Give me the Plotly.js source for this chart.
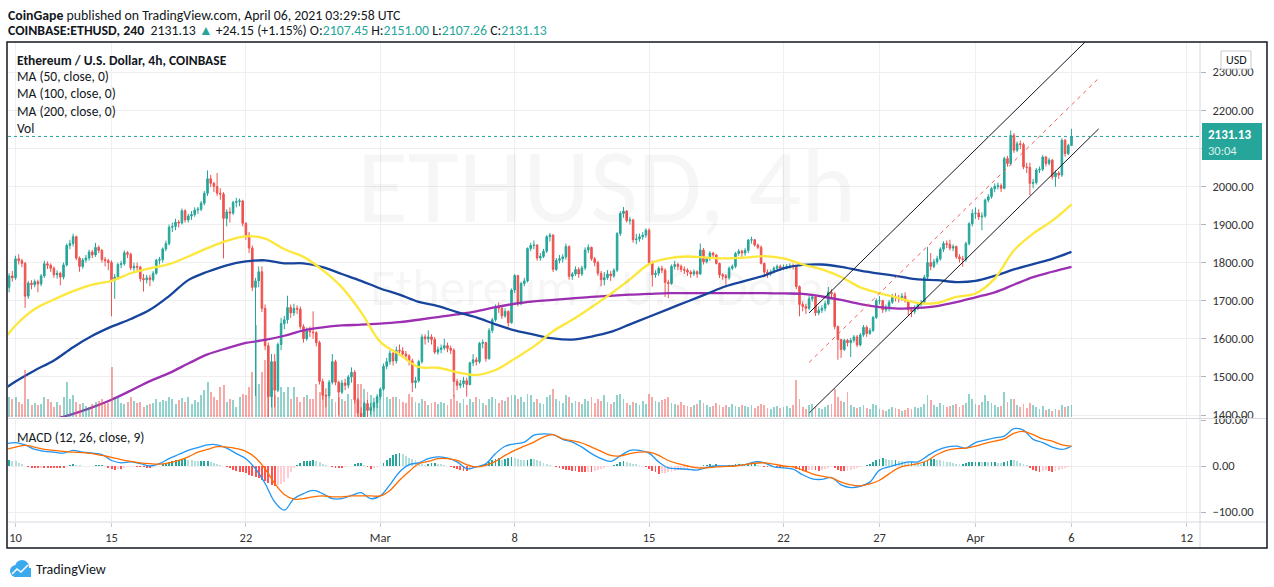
<!DOCTYPE html>
<html>
<head>
<meta charset="utf-8">
<script src="https://cdn.plot.ly/plotly-3.0.1.min.js"></script>
<style>
html,body{margin:0;padding:0;background:#fff;}
#chart{width:1274px;height:587px;}
</style>
</head>
<body>
<div id="chart"></div>
<script>
// ETH/USD 4h candles, Coinbase, 9 Feb – 6 Apr 2021
const FIRST_CANDLE = Date.UTC(2021, 1, 9, 16);
const FOUR_H = 4 * 3600 * 1000;
const HALF_DAY = 12 * 3600 * 1000;
const DAY = 24 * 3600 * 1000;

const firstOpen = 1735;
const closes = [
  1765, 1760,
  1810, 1805, 1798, 1712, 1746, 1742,   // Feb 10
  1750, 1744, 1765, 1797, 1793, 1785,
  1768, 1772, 1762, 1794, 1845, 1850,
  1868, 1812, 1790, 1807, 1812, 1828,
  1820, 1840, 1832, 1808, 1805, 1800,
  1755, 1762, 1795, 1797, 1826, 1822,   // Feb 15
  1786, 1790, 1788, 1758, 1755, 1760,
  1755, 1772, 1806, 1808, 1836, 1850,
  1893, 1895, 1906, 1904, 1936, 1912,
  1922, 1926, 1938, 1940, 1956, 1982,
  2020, 2008, 2000, 1982, 1980, 1916,   // Feb 20
  1933, 1930, 1958, 1960, 1962, 1903,
  1872, 1838, 1735, 1752, 1776, 1680,
  1582, 1448, 1540, 1465, 1585, 1640,
  1650, 1682, 1668, 1680, 1678, 1632,
  1600, 1622, 1618, 1616, 1590, 1488,   // Feb 25
  1452, 1450, 1486, 1540, 1486, 1460,
  1484, 1478, 1500, 1512, 1440, 1405,
  1395, 1430, 1412, 1420, 1432, 1448,
  1468, 1528, 1540, 1562, 1542, 1570,   // Mar 1
  1568, 1560, 1555, 1542, 1485, 1490,
  1540, 1605, 1600, 1605, 1598, 1565,
  1572, 1576, 1582, 1575, 1570, 1488,
  1478, 1482, 1490, 1480, 1537, 1545,   // Mar 5
  1540, 1588, 1590, 1548, 1622, 1650,
  1685, 1680, 1660, 1672, 1642, 1728,
  1766, 1692, 1745, 1752, 1837, 1845,
  1846, 1812, 1816, 1830, 1868, 1872,
  1782, 1806, 1810, 1815, 1842, 1764,   // Mar 10
  1770, 1782, 1770, 1786, 1833, 1840,
  1810, 1800, 1772, 1755, 1760, 1770,
  1765, 1780, 1876, 1929, 1935, 1910,
  1912, 1860, 1862, 1868, 1872, 1885,
  1800, 1768, 1772, 1785, 1780, 1748,   // Mar 15
  1745, 1790, 1795, 1790, 1782, 1780,
  1775, 1770, 1776, 1770, 1833, 1802,
  1810, 1825, 1820, 1798, 1768, 1765,
  1760, 1785, 1790, 1824, 1830, 1825,
  1832, 1859, 1860, 1846, 1840, 1798,   // Mar 20
  1775, 1770, 1776, 1785, 1790, 1786,
  1788, 1790, 1791, 1790, 1737, 1690,
  1685, 1680, 1705, 1710, 1668, 1675,
  1680, 1692, 1722, 1718, 1632, 1598,
  1572, 1596, 1590, 1596, 1605, 1584,   // Mar 25
  1610, 1630, 1614, 1622, 1656, 1700,
  1700, 1676, 1680, 1696, 1710, 1708,
  1705, 1712, 1700, 1676, 1672, 1682,
  1690, 1696, 1762, 1800, 1790, 1802,
  1810, 1835, 1850, 1848, 1838, 1842,   // Mar 30
  1815, 1810, 1808, 1850, 1902, 1929,
  1930, 1920, 1922, 1964, 1973, 1994,   // Apr 1
  2000, 2002, 1995, 2073, 2060, 2134,
  2095, 2112, 2110, 2051, 2050, 2008,
  2010, 2043, 2045, 2077, 2060, 2069,
  2025, 2035, 2030, 2121, 2086, 2107.45, // Apr 5
  2131.13
];

const highs = [
  1772, 1778,
  1818, 1822, 1810, 1802, 1752, 1754,
  1756, 1755, 1770, 1805, 1803, 1798,
  1790, 1780, 1776, 1800, 1850, 1860,
  1876, 1871, 1816, 1812, 1820, 1834,
  1833, 1852, 1845, 1836, 1815, 1810,
  1806, 1770, 1800, 1805, 1832, 1830,
  1826, 1800, 1800, 1792, 1770, 1768,
  1768, 1778, 1810, 1815, 1840, 1858,
  1900, 1905, 1915, 1912, 1942, 1940,
  1928, 1935, 1945, 1946, 1962, 1988,
  2042, 2030, 2012, 2035, 1995, 1985,
  1940, 1945, 1962, 1970, 1968, 1965,
  1906, 1880, 1845, 1760, 1790, 1790,
  1690, 1590, 1560, 1560, 1590, 1655,
  1660, 1713, 1690, 1692, 1688, 1685,
  1638, 1630, 1632, 1672, 1620, 1595,
  1495, 1470, 1492, 1560, 1545, 1490,
  1492, 1495, 1505, 1525, 1518, 1445,
  1420, 1435, 1440, 1432, 1445, 1455,
  1472, 1535, 1550, 1570, 1565, 1580,
  1585, 1578, 1568, 1560, 1548, 1500,
  1545, 1612, 1612, 1622, 1612, 1605,
  1580, 1585, 1600, 1590, 1582, 1575,
  1495, 1492, 1500, 1498, 1540, 1560,
  1552, 1592, 1598, 1592, 1628, 1655,
  1690, 1695, 1685, 1680, 1675, 1732,
  1770, 1768, 1750, 1760, 1840, 1852,
  1858, 1848, 1825, 1836, 1872, 1878,
  1875, 1812, 1820, 1822, 1850, 1845,
  1775, 1790, 1788, 1792, 1840, 1848,
  1842, 1815, 1805, 1778, 1775, 1780,
  1778, 1785, 1880, 1935, 1946, 1938,
  1920, 1915, 1875, 1876, 1880, 1890,
  1890, 1805, 1780, 1790, 1792, 1785,
  1755, 1795, 1805, 1800, 1795, 1790,
  1785, 1780, 1782, 1780, 1850, 1838,
  1815, 1830, 1828, 1822, 1800, 1772,
  1770, 1790, 1795, 1828, 1836, 1834,
  1838, 1862, 1868, 1862, 1850, 1845,
  1800, 1782, 1782, 1790, 1795, 1795,
  1795, 1796, 1798, 1798, 1792, 1740,
  1698, 1692, 1712, 1718, 1712, 1685,
  1688, 1700, 1736, 1730, 1722, 1635,
  1600, 1600, 1600, 1602, 1610, 1610,
  1615, 1636, 1635, 1628, 1660, 1706,
  1712, 1702, 1690, 1702, 1718, 1720,
  1715, 1720, 1722, 1702, 1684, 1688,
  1695, 1702, 1768, 1841, 1825, 1810,
  1818, 1840, 1856, 1858, 1860, 1848,
  1845, 1822, 1818, 1855, 1906, 1940,
  1945, 1940, 1932, 1968, 1980, 1998,
  2008, 2010, 2008, 2078, 2080, 2147,
  2140, 2118, 2120, 2115, 2062, 2062,
  2020, 2048, 2052, 2082, 2080, 2075,
  2072, 2042, 2040, 2126, 2125, 2112,
  2151
];

const lows = [
  1722, 1750,
  1755, 1795, 1788, 1681, 1705, 1730,
  1735, 1722, 1738, 1760, 1783, 1775,
  1760, 1758, 1740, 1756, 1790, 1835,
  1842, 1806, 1776, 1784, 1800, 1805,
  1812, 1815, 1825, 1800, 1790, 1780,
  1659, 1705, 1755, 1785, 1792, 1812,
  1780, 1778, 1778, 1750, 1724, 1745,
  1738, 1750, 1768, 1795, 1800, 1830,
  1845, 1880, 1885, 1892, 1900, 1905,
  1905, 1912, 1920, 1928, 1935, 1950,
  1975, 1998, 1985, 1975, 1965, 1811,
  1895, 1905, 1925, 1945, 1948, 1895,
  1860, 1825, 1725, 1450, 1735, 1670,
  1570, 1390, 1420, 1420, 1460, 1570,
  1625, 1640, 1655, 1660, 1665, 1625,
  1590, 1595, 1605, 1600, 1580, 1480,
  1440, 1420, 1445, 1480, 1478, 1400,
  1455, 1465, 1470, 1485, 1430, 1395,
  1290, 1380, 1395, 1400, 1410, 1418,
  1440, 1462, 1520, 1532, 1530, 1535,
  1555, 1550, 1545, 1530, 1460, 1470,
  1485, 1535, 1585, 1590, 1585, 1560,
  1558, 1562, 1570, 1565, 1560, 1448,
  1465, 1470, 1472, 1448, 1478, 1528,
  1530, 1535, 1575, 1540, 1545, 1615,
  1645, 1668, 1652, 1655, 1632, 1640,
  1720, 1685, 1688, 1738, 1748, 1830,
  1835, 1805, 1805, 1812, 1825, 1855,
  1775, 1778, 1798, 1800, 1808, 1755,
  1755, 1765, 1760, 1765, 1780, 1825,
  1805, 1790, 1765, 1738, 1740, 1755,
  1752, 1760, 1775, 1870, 1918, 1905,
  1900, 1852, 1848, 1855, 1860, 1865,
  1795, 1737, 1760, 1765, 1772, 1710,
  1707, 1742, 1782, 1780, 1775, 1770,
  1765, 1760, 1765, 1760, 1768, 1795,
  1798, 1805, 1812, 1795, 1760, 1755,
  1735, 1755, 1780, 1785, 1818, 1815,
  1818, 1825, 1850, 1842, 1835, 1795,
  1765, 1760, 1765, 1772, 1780, 1778,
  1780, 1782, 1784, 1782, 1730, 1659,
  1672, 1665, 1675, 1698, 1660, 1662,
  1668, 1672, 1688, 1708, 1625, 1545,
  1550, 1568, 1580, 1552, 1590, 1578,
  1580, 1605, 1605, 1610, 1618, 1652,
  1690, 1668, 1670, 1672, 1692, 1698,
  1695, 1700, 1695, 1662, 1657, 1665,
  1675, 1685, 1690, 1755, 1780, 1785,
  1795, 1805, 1828, 1838, 1832, 1830,
  1810, 1800, 1789, 1802, 1845, 1895,
  1915, 1912, 1885, 1918, 1958, 1968,
  1985, 1992, 1985, 1992, 2052, 2055,
  2088, 2090, 2098, 2045, 2035, 1977,
  1995, 2005, 2035, 2040, 2052, 2055,
  2018, 1999, 2020, 2025, 2078, 2082,
  2107.26
];

// volume per candle, thousand ETH
const volumes = [
  20, 18,
  20, 15, 13, 47, 18, 12,
  14, 12, 13, 20, 18, 15,
  10, 15, 12, 20, 35, 18,
  22, 15, 13, 14, 11, 10,
  13, 15, 16, 18, 13, 14,
  50, 18, 20, 14, 13, 15,
  20, 16, 14, 15, 10, 12,
  13, 14, 18, 15, 17, 16,
  20, 18, 13, 17, 19, 15,
  20, 13, 17, 15, 22, 27,
  35, 25, 20, 17, 30, 32,
  15, 18, 17, 10, 20, 23,
  22, 30, 45, 92, 33, 45,
  57, 33, 30, 22, 20, 30,
  25, 30, 18, 30, 20, 15,
  20, 22, 18, 18, 33, 25,
  30, 22, 20, 18, 15, 20,
  18, 16, 23, 18, 25, 33,
  33, 28, 25, 22, 15, 20,
  22, 25, 20, 18, 20, 20,
  18, 15, 14, 23, 20, 15,
  14, 18, 16, 12, 14, 15,
  13, 15, 14, 12, 18, 22,
  16, 14, 18, 12, 18, 15,
  20, 18, 14, 12, 18, 20,
  18, 14, 17, 16, 20, 22,
  22, 18, 20, 15, 23, 22,
  15, 18, 14, 13, 20, 22,
  28, 18, 16, 14, 22, 20,
  14, 16, 15, 13, 18, 16,
  20, 14, 18, 16, 22, 15,
  13, 15, 22, 23, 18, 14,
  12, 15, 14, 12, 16, 13,
  23, 20, 16, 15, 17, 18,
  20, 14, 13, 12, 15, 12,
  11, 10, 12, 13, 17, 14,
  12, 10, 11, 14, 12, 10,
  12, 10, 13, 11, 10, 12,
  11, 10, 12, 9, 11, 13,
  12, 9, 8, 10, 11, 9,
  10, 11, 9, 12, 37, 18,
  10, 8, 12, 13, 10, 9,
  8, 10, 12, 13, 28, 20,
  16, 15, 25, 12, 10, 9,
  10, 12, 9, 8, 13, 12,
  8, 7, 6, 8, 10, 9,
  8, 6, 7, 9, 8, 10,
  9, 10, 13, 22, 17, 12,
  10, 14, 12, 10, 11, 12,
  13, 10, 12, 14, 23, 18,
  13, 12, 15, 22, 16, 14,
  12, 10, 11, 25, 15, 18,
  18, 12, 10, 13, 9, 14,
  12, 10, 8, 11, 7, 8,
  6, 8, 7, 12, 10, 11,
  12
];

// MACD histogram per candle
const macdHist = [
  12, 11,
  10, 7, 4, 1, -2, -4,
  -5, -5, -4, -4, -4, -4,
  -4, -4, -4, -4, -1, 2,
  4, 3, 2, 1, 1, 1,
  1, 2, 2, 2, 0, -4,
  -7, -8, -7, -7, -5, -3,
  -1, -1, -2, -2, -3, -4,
  -5, -3, -1, 1, 4, 7,
  9, 11, 12, 13, 14, 15,
  14, 13, 11, 10, 10, 10,
  10, 8, 6, 4, 2, 0,
  -2, -5, -8, -11, -12, -14,
  -16, -19, -22, -24, -27, -30,
  -32, -38, -42, -44, -42, -40,
  -34, -25, -14, -4, 2, 6,
  10, 11, 11, 12, 11, 8,
  5, 2, -1, -3, -4, -4,
  -4, -3, -1, 1, 4, 6,
  7, 3, -2, -6, -5, -2,
  0, 6, 12, 18, 24, 27,
  28, 26, 22, 18, 15, 12,
  6, 4, 3, 4, 6, 6,
  5, 4, 3, 1, -2, -5,
  -6, -8, -10, -11, -8, -4,
  -1, 1, 3, 5, 8, 12,
  15, 17, 14, 16, 18, 20,
  17, 15, 13, 12, 14, 16,
  15, 13, 10, 7, 5, 2,
  -1, -3, -5, -6, -8, -9,
  -10, -11, -12, -12, -13, -12,
  -13, -11, -9, -7, -5, -3,
  -1, 2, 5, 8, 10, 9,
  7, 5, 4, 2, 0, -3,
  -6, -10, -14, -17, -16, -15,
  -14, -12, -10, -9, -8, -7,
  -6, -5, -4, -3, 0, 2,
  3, 4, 3, 4, 2, 1,
  1, 2, 3, 4, 5, 4,
  3, 4, 5, 5, 2, -1,
  -3, -3, -2, -1, -3, -5,
  -5, -4, -3, -3, -6, -9,
  -10, -10, -9, -8, -9, -11,
  -9, -7, -5, -3, -5, -8,
  -10, -11, -10, -8, -6, -4,
  -2, -1, 2, 5, 9, 13,
  16, 17, 15, 13, 12, 12,
  11, 10, 9, 8, 8, 7,
  5, 4, 8, 13, 15, 16,
  14, 12, 10, 9, 8, 6,
  5, 4, 5, 6, 8, 9,
  9, 9, 8, 9, 8, 8,
  8, 7, 6, 8, 11, 14,
  12, 10, 7, 5, 2, -4,
  -8, -11, -12, -10, -9, -10,
  -12, -11, -9, -7, -5, -3,
  -2
];

// moving averages: first sample 9 Feb 14:00, then daily at 00:00 from 10 Feb
const MA_FIRST = '2021-02-09 14:00';
const MA_DAILY_START = Date.UTC(2021, 1, 10);
const ma50 = [1610, 1635, 1678, 1703, 1725, 1742, 1752, 1772, 1785, 1796, 1816, 1838, 1857, 1869,
  1863, 1835, 1815, 1780, 1735, 1670, 1592, 1559, 1526, 1524, 1512, 1505, 1518, 1548, 1580, 1620,
  1650, 1683, 1718, 1756, 1796, 1811, 1816, 1813, 1811, 1813, 1817, 1811, 1795, 1782, 1762, 1735,
  1720, 1707, 1694, 1694, 1710, 1719, 1758, 1832, 1876, 1910, 1953];
const ma100 = [1474, 1488, 1517, 1543, 1578, 1608, 1632, 1652, 1676, 1712, 1754, 1776, 1793, 1803,
  1806, 1798, 1798, 1788, 1770, 1752, 1732, 1716, 1697, 1686, 1670, 1656, 1638, 1622, 1611, 1601,
  1598, 1606, 1618, 1638, 1658, 1678, 1698, 1718, 1738, 1752, 1766, 1785, 1794, 1795, 1789, 1779,
  1771, 1764, 1756, 1754, 1749, 1752, 1765, 1782, 1796, 1810, 1828];
const ma200 = [null, null, 1370, 1388, 1403, 1420, 1440, 1464, 1489, 1510, 1535, 1559, 1575, 1589,
  1597, 1608, 1622, 1630, 1635, 1637, 1640, 1644, 1650, 1657, 1664, 1672, 1683, 1692, 1698, 1702,
  1706, 1710, 1713, 1716, 1718, 1720, 1720, 1720, 1720, 1720, 1720, 1719, 1718, 1711, 1702, 1691,
  1683, 1679, 1681, 1686, 1696, 1709, 1722, 1742, 1762, 1776, 1789];

// MACD (12, 26, 9) lines, sampled every 12 h from 9 Feb 12:00
const MACD_START = Date.UTC(2021, 1, 9, 12);
const macdLine = [48, 51, 46, 36, 32, 30, 28, 34, 30, 28,
  25, 12, 7, 9, 5, 0, 5, 16, 25, 34,
  40, 46, 46, 39, 27, 16, -6, -38, -78, -96,
  -71, -60, -53, -60, -71, -71, -64, -58, -71, -65,
  -41, -13, 3, 7, 16, 20, 17, 9, -6, -2,
  5, 27, 43, 48, 52, 67, 70, 68, 58, 52,
  41, 27, 16, 10, 22, 34, 34, 28, 9, -4,
  -6, -7, -9, -3, 0, 0, 1, 3, 9, 7,
  -2, -4, -7, -19, -28, -29, -25, -41, -47, -44,
  -35, -9, -2, 4, 9, 9, 22, 34, 41, 43,
  39, 51, 56, 61, 65, 81, 78, 58, 51, 41,
  36, 43];
const signalLine = [36, 41, 45, 41, 36, 34, 32, 30, 29, 27,
  23, 19, 14, 10, 7, 5, 4, 7, 12, 20,
  30, 36, 42, 41, 38, 32, 18, -6, -38, -62,
  -72, -71, -67, -65, -67, -67, -65, -65, -65, -65,
  -53, -31, -12, 5, 10, 16, 16, 12, 3, -2,
  1.5, 10, 23, 34, 43, 52, 63, 68, 59, 55,
  50, 41, 32, 23, 22, 27, 30, 30, 23, 12,
  5, 0, -4, -4, -2, -1, 0, 3, 6, 7,
  4, 0, -2, -9, -17, -22, -26, -35, -41, -43,
  -39, -31, -17, -4, 1.5, 5, 12, 25, 34, 38,
  39, 43, 49, 54, 59, 71, 75, 68, 59, 54,
  46, 43];

// rising parallel channel with dashed median
const channelDates = ['2021-03-23 08:00', '2021-04-07 10:00'];
const channelUpper = [1668, 2414];
const channelLower = [1405, 2151];
const channelMid = [1538, 2284];

const tickDates = ['2021-02-10', '2021-02-15', '2021-02-22', '2021-03-01', '2021-03-08', '2021-03-15',
  '2021-03-22', '2021-03-27', '2021-04-01', '2021-04-06', '2021-04-12'];
const tickLabels = ['10', '15', '22', 'Mar', '8', '15', '22', '27', 'Apr', '6', '12'];
const priceTicks = [1400, 1500, 1600, 1700, 1800, 1900, 2000, 2100, 2200, 2300];
const macdTicks = [-100, 0, 100];

// ---------------------------------------------------------------------------
const UP = '#26a69a', DOWN = '#ef5350';
const FONT = 'Carlito, Lato, "Open Sans", sans-serif';

function stamp(ms) { return new Date(ms).toISOString().slice(0, 16).replace('T', ' '); }
// pixel helpers for the page furniture (frame, labels)
const PL = 8, PW = 1192, PB = 522, PH = 480;
function px(x) { return (x - PL) / PW; }
function py(y) { return (PB - y) / PH; }

const times = closes.map((_, i) => stamp(FIRST_CANDLE + i * FOUR_H));
const opens = closes.map((c, i) => i === 0 ? firstOpen : closes[i - 1]);
const volColors = closes.map((c, i) => c >= opens[i] ? 'rgba(38,166,154,0.5)' : 'rgba(239,83,80,0.5)');

const maDates = [MA_FIRST];
for (let d = 0; d < ma50.length - 1; d++) maDates.push(stamp(MA_DAILY_START + d * DAY));

const macdTimes = macdLine.map((_, j) => stamp(MACD_START + j * HALF_DAY));
const histColors = macdHist.map((h, i) => {
  const prev = i === 0 ? h : macdHist[i - 1];
  if (h >= 0) return h >= prev ? '#26a69a' : '#b2dfdb';
  return h <= prev ? '#ff5252' : '#ffcdd2';
});

const last = closes.length - 1;
const lastClose = closes[last];

// the last-price tag sits over the 2100 level, so that scale label stays hidden
const priceTickText = priceTicks.map(v => Math.abs(v - lastClose) < 45 ? '' : v.toFixed(2));

const traces = [
  { type: 'candlestick', x: times, open: opens, high: highs, low: lows, close: closes,
    xaxis: 'x', yaxis: 'y', whiskerwidth: 0, hoverinfo: 'skip',
    increasing: { line: { color: UP, width: 1 }, fillcolor: UP },
    decreasing: { line: { color: DOWN, width: 1 }, fillcolor: DOWN } },
  { type: 'scatter', mode: 'lines', x: maDates, y: ma200, xaxis: 'x', yaxis: 'y',
    line: { color: '#9c2fb2', width: 2.3, shape: 'spline' }, hoverinfo: 'skip' },
  { type: 'scatter', mode: 'lines', x: maDates, y: ma100, xaxis: 'x', yaxis: 'y',
    line: { color: '#17449c', width: 2.3, shape: 'spline' }, hoverinfo: 'skip' },
  { type: 'scatter', mode: 'lines', x: maDates, y: ma50, xaxis: 'x', yaxis: 'y',
    line: { color: '#fde73a', width: 2.3, shape: 'spline' }, hoverinfo: 'skip' },
  { type: 'scatter', mode: 'lines', x: channelDates, y: channelUpper, xaxis: 'x', yaxis: 'y',
    line: { color: '#131722', width: 1 }, hoverinfo: 'skip' },
  { type: 'scatter', mode: 'lines', x: channelDates, y: channelLower, xaxis: 'x', yaxis: 'y',
    line: { color: '#131722', width: 1 }, hoverinfo: 'skip' },
  { type: 'scatter', mode: 'lines', x: channelDates, y: channelMid, xaxis: 'x', yaxis: 'y',
    line: { color: '#f0625a', width: 1, dash: '4px,4px' }, hoverinfo: 'skip' },
  { type: 'bar', x: times, y: volumes, xaxis: 'x', yaxis: 'y3', marker: { color: volColors },
    width: FOUR_H * 0.62, hoverinfo: 'skip' },
  { type: 'bar', x: times, y: macdHist, xaxis: 'x2', yaxis: 'y2', marker: { color: histColors },
    width: FOUR_H * 0.62, hoverinfo: 'skip' },
  { type: 'scatter', mode: 'lines', x: macdTimes, y: macdLine, xaxis: 'x2', yaxis: 'y2',
    line: { color: '#2196f3', width: 1.3, shape: 'spline' }, hoverinfo: 'skip' },
  { type: 'scatter', mode: 'lines', x: macdTimes, y: signalLine, xaxis: 'x2', yaxis: 'y2',
    line: { color: '#ff6d00', width: 1.3, shape: 'spline' }, hoverinfo: 'skip' }
];

const xRange = ['2021-02-09 14:37', '2021-04-12 16:38'];
const GRID = '#efeff1';
const tickFont = { family: FONT, size: 12.5, color: '#333' };

const axisBase = { type: 'date', range: xRange, tickvals: tickDates, showgrid: true, gridcolor: GRID,
  gridwidth: 1, zeroline: false, showline: false, fixedrange: true };

const layout = {
  width: 1274, height: 587,
  margin: { l: PL, r: 1274 - PL - PW, t: 42, b: 587 - PB, pad: 0 },
  paper_bgcolor: '#fff', plot_bgcolor: '#fff',
  showlegend: false, bargap: 0, barmode: 'overlay',
  font: { family: FONT, color: '#131722' },
  xaxis: Object.assign({}, axisBase, { anchor: 'y', showticklabels: false, ticks: '',
    rangeslider: { visible: false } }),
  xaxis2: Object.assign({}, axisBase, { anchor: 'y2', ticktext: tickLabels, ticks: 'outside',
    ticklen: 4, tickcolor: '#c8cad0', tickfont: tickFont }),
  yaxis: { domain: [0.21875, 1], range: [1394.75, 2379], side: 'right', tickvals: priceTicks,
    ticktext: priceTickText, ticks: 'outside', ticklen: 5, tickcolor: '#b2b5be', tickfont: tickFont,
    ticklabelstandoff: 4,
    showgrid: true, gridcolor: GRID, zeroline: false, showline: false, fixedrange: true },
  yaxis2: { domain: [0, 0.2125], range: [-121.7, 100], side: 'right', tickvals: macdTicks,
    tickformat: '.2f', ticks: 'outside', ticklen: 5, tickcolor: '#b2b5be', tickfont: tickFont,
    ticklabelstandoff: 4,
    showgrid: true, gridcolor: GRID, zeroline: false, showline: false, fixedrange: true },
  yaxis3: { overlaying: 'y', range: [0, 375], visible: false, fixedrange: true },
  shapes: [
    // last price line
    { type: 'line', xref: 'paper', yref: 'y', x0: 0, x1: 1, y0: lastClose, y1: lastClose,
      line: { color: UP, width: 1, dash: 'dot' } },
    // panel separators
    { type: 'line', xref: 'paper', yref: 'paper', x0: 1, x1: 1, y0: py(548), y1: 1,
      line: { color: '#d6d8de', width: 1 } },
    { type: 'line', xref: 'paper', yref: 'paper', x0: 0, x1: px(1267), y0: py(418.5), y1: py(418.5),
      line: { color: '#d6d8de', width: 1 } },
    { type: 'line', xref: 'paper', yref: 'paper', x0: 0, x1: px(1267), y0: 0, y1: 0,
      line: { color: '#d6d8de', width: 1 } },
    // price tag on the scale
    { type: 'rect', xref: 'paper', yref: 'paper', x0: px(1202), x1: px(1262), y0: py(160), y1: py(123),
      fillcolor: UP, line: { width: 0 }, layer: 'above' },
    // currency badge
    { type: 'rect', xref: 'paper', yref: 'paper', x0: px(1221), x1: px(1251), y0: py(69), y1: py(51),
      fillcolor: '#fff', line: { color: '#c9cbd1', width: 1 }, layer: 'above' },
    // outer frame
    { type: 'rect', xref: 'paper', yref: 'paper', x0: px(7), x1: px(1267), y0: py(548), y1: py(42),
      line: { color: '#131722', width: 1.5 }, fillcolor: 'rgba(0,0,0,0)', layer: 'above' },
    // logo
    { type: 'circle', xref: 'paper', yref: 'paper', x0: px(10), x1: px(22), y0: py(577), y1: py(565),
      fillcolor: '#3ba9ee', line: { width: 0 } },
    { type: 'circle', xref: 'paper', yref: 'paper', x0: px(15), x1: px(29), y0: py(574), y1: py(560),
      fillcolor: '#3ba9ee', line: { width: 0 } },
    { type: 'rect', xref: 'paper', yref: 'paper', x0: px(14), x1: px(31), y0: py(577), y1: py(568),
      fillcolor: '#3ba9ee', line: { width: 0 } },
    { type: 'path', xref: 'paper', yref: 'paper',
      path: `M ${px(12)},${py(574)} L ${px(17)},${py(569)} L ${px(21)},${py(572)} L ${px(28)},${py(565)}`,
      line: { color: '#fff', width: 1.5 } }
  ],
  annotations: []
};

function note(text, x, y, opts) {
  layout.annotations.push(Object.assign({
    text: text, xref: 'paper', yref: 'paper', x: px(x), y: py(y), xanchor: 'left', yanchor: 'middle',
    showarrow: false, font: { family: FONT, size: 13.5, color: '#131722' }
  }, opts || {}));
}

// watermark
note('ETHUSD, 4h', 606, 186, { xanchor: 'center', font: { family: FONT, size: 104, color: 'rgba(19,23,34,0.04)' } });
note('Ethereum / U.S. Dollar', 606, 287, { xanchor: 'center', font: { family: FONT, size: 52, color: 'rgba(19,23,34,0.04)' } });

// header
note('<b>CoinGape</b> published on TradingView.com, April 06, 2021 03:29:58 UTC', 6, 16, { font: { family: FONT, size: 13.8, color: '#131722' } });
const teal = s => `<span style="color:${UP}">${s}</span>`;
note(`<b>COINBASE:ETHUSD, 240</b>  ${lastClose.toFixed(2)} ${teal('▲')} +24.15 (+1.15%) ` +
  `O:${teal(opens[last].toFixed(2))} H:${teal(highs[last].toFixed(2))} ` +
  `L:${teal(lows[last].toFixed(2))} C:${teal(lastClose.toFixed(2))}`, 6, 30, { font: { family: FONT, size: 13.8, color: '#131722' } });

// pane legends
note('<b>Ethereum / U.S. Dollar, 4h, COINBASE</b>', 15, 61);
note('MA (50, close, 0)', 15, 77);
note('MA (100, close, 0)', 15, 94);
note('MA (200, close, 0)', 15, 111);
note('Vol', 15, 128);
note('MACD (12, 26, close, 9)', 15, 437);

// scale badges
note('USD', 1236, 60, { xanchor: 'center', font: { family: FONT, size: 12, color: '#131722' } });
note(`<b>${lastClose.toFixed(2)}</b>`, 1206, 134, { font: { family: FONT, size: 13, color: '#fff' } });
note('30:04', 1206, 150, { font: { family: FONT, size: 12.5, color: 'rgba(255,255,255,0.85)' } });

// footer
note('TradingView', 34, 569, { font: { family: FONT, size: 14, color: '#131722' } });

Plotly.newPlot('chart', traces, layout, { staticPlot: true, displayModeBar: false });
</script>
</body>
</html>
